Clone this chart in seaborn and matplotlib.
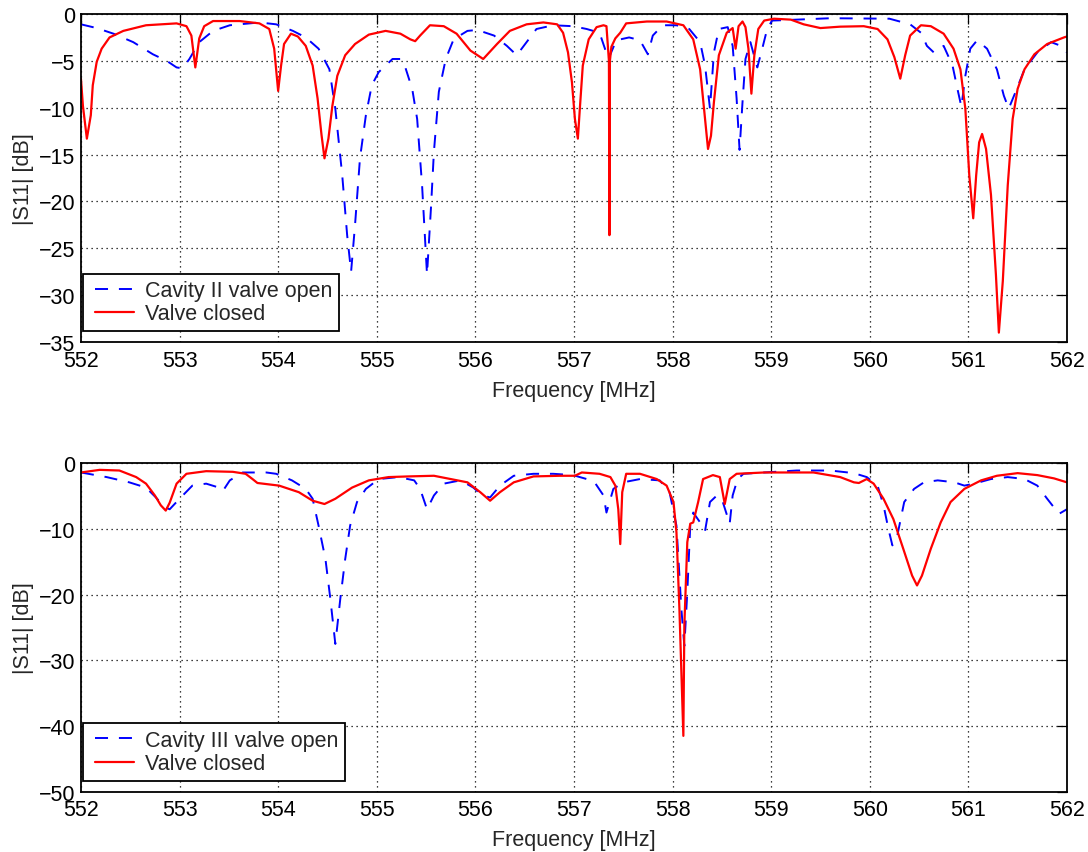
import matplotlib
matplotlib.use("Agg")
import matplotlib.pyplot as plt
from matplotlib.legend_handler import HandlerLine2D
from matplotlib.lines import Line2D
import seaborn as sns
import pandas as pd

# ---------------- data ----------------
# Top panel: Cavity II
top_open_f = [552.00, 552.16, 552.33, 552.53, 552.73, 552.87, 552.97, 553.03, 553.10, 553.20, 553.34,
              553.51, 553.81, 553.98, 554.15, 554.28, 554.41, 554.52, 554.58, 554.65, 554.70, 554.74,
              554.78, 554.83, 554.89, 554.95, 555.02, 555.16, 555.24, 555.29, 555.36, 555.41, 555.46,
              555.51, 555.55, 555.58, 555.63, 555.70, 555.78, 555.92, 556.02, 556.19, 556.32, 556.42,
              556.52, 556.62, 556.79, 556.99, 557.13, 557.26, 557.35, 557.43, 557.56, 557.67, 557.75,
              557.80, 557.90, 558.04, 558.17, 558.28, 558.33, 558.38, 558.42, 558.47, 558.56, 558.61,
              558.65, 558.68, 558.71, 558.74, 558.79, 558.86, 558.91, 558.96, 559.01, 559.26, 559.60,
              560.20, 560.41, 560.52, 560.58, 560.65, 560.75, 560.84, 560.89, 560.93, 560.97, 561.02,
              561.09, 561.19, 561.29, 561.36, 561.41, 561.48, 561.57, 561.70, 561.84, 561.94, 562.00]
top_open_db = [-1.1, -1.5, -2.1, -3.0, -4.3, -5.0, -5.7, -5.8, -4.8, -3.0, -1.8,
               -1.2, -0.9, -1.1, -1.8, -2.5, -3.7, -5.9, -10.1, -17.2, -23.6, -27.5,
               -22.5, -15.4, -10.8, -7.6, -6.2, -4.8, -4.8, -5.7, -8.0, -11.2, -18.3,
               -27.8, -20.7, -14.7, -8.3, -4.8, -2.7, -1.8, -1.7, -2.3, -3.4, -4.4,
               -3.0, -1.6, -1.2, -1.3, -1.6, -2.0, -4.8, -2.8, -2.5, -2.8, -4.3,
               -2.3, -1.2, -1.2, -1.6, -3.0, -5.5, -10.1, -4.1, -1.6, -1.4, -3.4,
               -9.0, -14.5, -9.4, -4.8, -3.0, -5.7, -3.7, -1.6, -0.7, -0.6, -0.45,
               -0.5, -1.1, -2.0, -3.4, -4.1, -3.4, -5.5, -8.0, -9.9, -6.6, -3.7,
               -2.8, -3.7, -5.9, -8.7, -10.1, -8.3, -5.9, -4.1, -3.0, -3.4, -4.1]

top_closed_f = [552.00, 552.02, 552.06, 552.10, 552.12, 552.16, 552.21, 552.29, 552.43, 552.66, 552.97,
                553.07, 553.12, 553.16, 553.20, 553.25, 553.34, 553.61, 553.81, 553.91, 553.96, 554.00,
                554.03, 554.06, 554.13, 554.20, 554.28, 554.35, 554.40, 554.44, 554.47, 554.51, 554.55,
                554.60, 554.68, 554.78, 554.92, 555.09, 555.24, 555.34, 555.39, 555.44, 555.54, 555.68,
                555.81, 555.95, 556.08, 556.22, 556.35, 556.52, 556.69, 556.83, 556.89, 556.94, 556.98,
                557.01, 557.04, 557.06, 557.09, 557.15, 557.23, 557.30, 557.33, 557.355, 557.36, 557.365,
                557.38, 557.42, 557.47, 557.53, 557.74, 557.94, 558.11, 558.21, 558.28, 558.33, 558.36,
                558.39, 558.42, 558.47, 558.55, 558.61, 558.64, 558.67, 558.71, 558.74, 558.77, 558.80,
                558.83, 558.87, 558.93, 559.03, 559.20, 559.33, 559.50, 559.70, 559.94, 560.08, 560.18,
                560.25, 560.31, 560.36, 560.41, 560.52, 560.62, 560.75, 560.85, 560.92, 560.97, 561.01,
                561.05, 561.08, 561.11, 561.14, 561.18, 561.23, 561.28, 561.31, 561.35, 561.40, 561.45,
                561.50, 561.57, 561.67, 561.80, 561.97, 562.00]
top_closed_db = [-6.9, -9.8, -13.3, -10.8, -7.6, -5.1, -3.7, -2.5, -1.8, -1.2, -1.0,
                 -1.3, -2.3, -5.7, -2.6, -1.3, -0.75, -0.75, -1.0, -1.6, -3.7, -8.2,
                 -5.5, -3.2, -2.1, -2.4, -3.4, -5.5, -9.0, -12.9, -15.4, -13.3, -9.8,
                 -6.6, -4.4, -3.2, -2.2, -1.8, -2.1, -2.7, -2.9, -2.3, -1.2, -1.3,
                 -2.1, -3.9, -4.8, -3.2, -1.8, -1.1, -0.9, -1.1, -2.0, -4.1, -7.3,
                 -11.2, -13.3, -10.1, -5.5, -2.7, -1.4, -1.2, -1.3, -5.0, -23.6, -5.0,
                 -3.5, -2.6, -2.0, -1.0, -0.8, -0.8, -1.2, -2.7, -5.9, -11.2, -14.4,
                 -13.0, -9.4, -4.4, -2.0, -1.5, -3.7, -1.3, -0.8, -1.4, -3.7, -8.5,
                 -4.4, -1.6, -0.7, -0.5, -0.6, -1.1, -1.5, -1.35, -1.3, -1.6, -2.7,
                 -4.6, -6.9, -4.4, -2.3, -1.2, -1.3, -2.1, -3.7, -5.9, -10.1, -17.2,
                 -21.8, -17.2, -13.7, -12.8, -14.4, -19.3, -27.8, -34.0, -28.5, -18.3, -11.2,
                 -8.0, -5.9, -4.3, -3.2, -2.5, -2.4]

# Bottom panel: Cavity III
bot_open_f = [552.00, 552.26, 552.49, 552.66, 552.76, 552.85, 552.90, 553.00, 553.13, 553.27, 553.40,
              553.44, 553.51, 553.64, 553.88, 553.98, 554.14, 554.28, 554.35, 554.41, 554.48, 554.53,
              554.58, 554.63, 554.68, 554.73, 554.80, 554.89, 555.02, 555.22, 555.38, 555.44, 555.51,
              555.58, 555.68, 555.85, 555.98, 556.07, 556.15, 556.25, 556.39, 556.59, 556.79, 556.99,
              557.13, 557.21, 557.30, 557.33, 557.40, 557.50, 557.67, 557.87, 557.97, 558.04, 558.09,
              558.12, 558.15, 558.18, 558.21, 558.28, 558.33, 558.38, 558.45, 558.51, 558.58, 558.61,
              558.66, 558.72, 558.93, 559.26, 559.60, 559.84, 559.97, 560.08, 560.14, 560.19, 560.23,
              560.28, 560.35, 560.45, 560.55, 560.69, 560.86, 560.96, 561.06, 561.23, 561.40, 561.57,
              561.70, 561.80, 561.92, 562.00]
bot_open_db = [-1.4, -2.1, -2.9, -3.7, -5.2, -6.7, -7.0, -5.4, -3.4, -3.1, -3.7,
               -4.2, -2.6, -1.4, -1.4, -1.6, -2.6, -3.9, -5.4, -9.5, -14.6, -20.7,
               -27.5, -20.7, -14.6, -9.5, -5.9, -3.9, -2.4, -2.1, -2.6, -3.9, -7.0,
               -4.9, -3.1, -2.6, -3.7, -4.9, -5.2, -3.4, -1.9, -1.6, -1.6, -1.8,
               -2.4, -2.9, -4.9, -7.5, -3.9, -2.9, -2.4, -2.6, -4.4, -9.5, -22.2,
               -27.8, -19.6, -9.5, -7.5, -9.0, -10.3, -5.9, -4.9, -5.9, -9.2, -4.9,
               -2.4, -1.6, -1.4, -1.1, -1.1, -1.5, -2.1, -3.4, -6.4, -10.0, -12.5,
               -11.0, -5.9, -3.9, -2.9, -2.6, -2.9, -3.4, -3.1, -2.4, -2.1, -2.4,
               -3.4, -5.4, -7.7, -7.0]

bot_closed_f = [552.00, 552.19, 552.39, 552.56, 552.66, 552.75, 552.81, 552.86, 552.90, 552.97, 553.07,
                553.27, 553.54, 553.67, 553.74, 553.79, 554.01, 554.21, 554.35, 554.47, 554.58, 554.75,
                554.92, 555.12, 555.32, 555.58, 555.92, 556.05, 556.15, 556.25, 556.39, 556.59, 556.86,
                557.01, 557.08, 557.26, 557.37, 557.42, 557.45, 557.47, 557.49, 557.53, 557.67, 557.84,
                557.94, 558.01, 558.04, 558.07, 558.11, 558.12, 558.15, 558.18, 558.21, 558.26, 558.31,
                558.41, 558.48, 558.53, 558.58, 558.65, 558.93, 559.43, 559.70, 559.84, 559.89, 559.97,
                560.04, 560.14, 560.24, 560.34, 560.43, 560.48, 560.53, 560.62, 560.72, 560.82, 560.96,
                561.13, 561.29, 561.50, 561.70, 561.87, 562.00]
bot_closed_db = [-1.4, -1.0, -1.1, -2.1, -3.1, -4.9, -6.4, -7.2, -6.0, -3.1, -1.6,
                 -1.2, -1.3, -1.6, -2.4, -3.0, -3.4, -4.4, -5.7, -6.2, -5.4, -3.7,
                 -2.6, -2.1, -2.0, -1.9, -2.9, -4.4, -5.7, -4.4, -2.9, -2.0, -1.9,
                 -1.9, -1.4, -1.6, -2.1, -3.4, -7.0, -12.3, -4.4, -1.6, -1.6, -2.4,
                 -3.4, -5.9, -10.5, -22.2, -41.5, -24.7, -12.0, -9.2, -9.0, -5.9, -2.4,
                 -1.8, -2.1, -6.2, -2.4, -1.6, -1.4, -1.4, -2.1, -2.9, -3.0, -2.4,
                 -3.1, -5.4, -8.5, -13.0, -17.1, -18.6, -17.1, -13.0, -9.0, -5.9, -3.9,
                 -2.6, -1.9, -1.5, -1.8, -2.3, -2.9]

x_ticks = [552, 553, 554, 555, 556, 557, 558, 559, 560, 561, 562]
top_y_ticks = [-35, -30, -25, -20, -15, -10, -5, 0]
bot_y_ticks = [-50, -40, -30, -20, -10, 0]
top_labels = ["Cavity II valve open", "Valve closed"]
bot_labels = ["Cavity III valve open", "Valve closed"]
x_label = "Frequency [MHz]"
y_label = "|S11| [dB]"

# ---------------- styling ----------------
sns.set_theme(style="white")
plt.rcParams["font.family"] = ["Liberation Sans", "DejaVu Sans"]
plt.rcParams["axes.unicode_minus"] = True

FS = 15.5
DASH = (6.7, 5.6)

fig = plt.figure(figsize=(10.88, 8.53), dpi=100)
ax1 = fig.add_axes([0.0744, 0.5979, 0.9062, 0.3845])
ax2 = fig.add_axes([0.0744, 0.0707, 0.9062, 0.3850])


def draw(ax, of, odb, cf, cdb, labels, yticks):
    d_open = pd.DataFrame({"f": of, "db": odb})
    d_closed = pd.DataFrame({"f": cf, "db": cdb})
    sns.lineplot(data=d_open, x="f", y="db", ax=ax, color="#0000ff", lw=1.4,
                 label=labels[0], estimator=None)
    sns.lineplot(data=d_closed, x="f", y="db", ax=ax, color="#ff0000", lw=1.6,
                 label=labels[1], estimator=None)
    ax.lines[0].set_dashes(DASH)
    ax.set_xlim(x_ticks[0], x_ticks[-1])
    ax.set_ylim(yticks[0], yticks[-1])
    ax.set_xticks(x_ticks)
    ax.set_yticks(yticks)
    ax.grid(True, linestyle=(0, (1, 3)), color="black", lw=0.9)
    ax.tick_params(direction="in", length=7, width=0.9, top=True, right=True,
                   labelsize=FS, colors="black")
    ax.tick_params(axis="x", pad=5.5)
    ax.tick_params(axis="y", pad=4)
    for s in ax.spines.values():
        s.set_color("black")
        s.set_linewidth(1.3)
    ax.set_xlabel(x_label, fontsize=FS, labelpad=6.5)
    ax.set_ylabel(y_label, fontsize=FS, labelpad=3.5)
    leg = ax.legend(loc="lower left", bbox_to_anchor=(0.002, 0.034), borderaxespad=0,
                    fontsize=FS, frameon=True, fancybox=False, edgecolor="black",
                    framealpha=1, handlelength=2.05, borderpad=0.3, labelspacing=0.1,
                    handletextpad=0.55,
                    handler_map={Line2D: HandlerLine2D(xpad=0.25)})
    leg.get_frame().set_linewidth(1.3)
    leg.legend_handles[0].set_dashes(DASH)


draw(ax1, top_open_f, top_open_db, top_closed_f, top_closed_db, top_labels, top_y_ticks)
draw(ax2, bot_open_f, bot_open_db, bot_closed_f, bot_closed_db, bot_labels, bot_y_ticks)

fig.savefig("out.png", dpi=100)
